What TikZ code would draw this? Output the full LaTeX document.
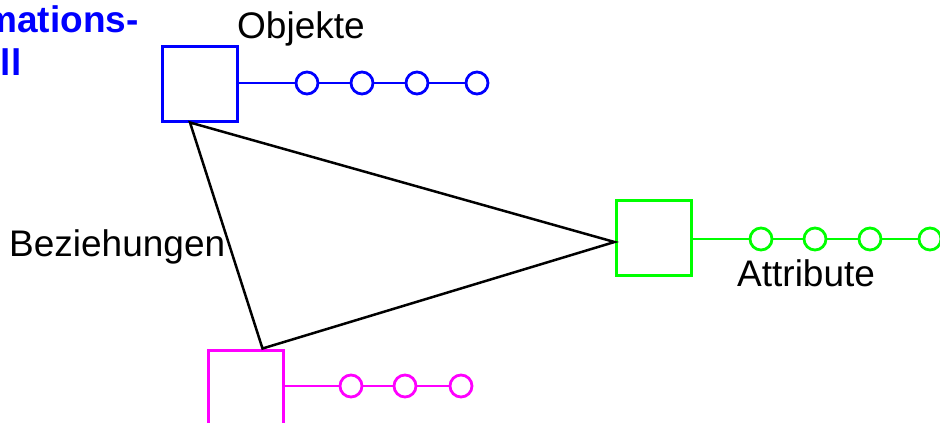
\documentclass[tikz,border=0pt]{standalone}
\usepackage{fontspec}
\setmainfont{Liberation Sans}
\usetikzlibrary{positioning,calc}
\definecolor{objblue}{RGB}{0,0,255}
\definecolor{attrgreen}{RGB}{0,255,0}
\definecolor{relmagenta}{RGB}{255,0,255}

\begin{document}
\begin{tikzpicture}[
x=1pt,y=-1pt,
box/.style={draw,line width=3pt,rectangle,minimum size=75pt,inner sep=0pt},
dot/.style={draw,line width=2.8pt,circle,minimum size=22pt,inner sep=0pt},
chain/.style={line width=2.8pt},
rel/.style={draw=black,line width=2.5pt,line join=miter},
lbl/.style={inner sep=0pt,font=\fontsize{37}{43}\selectfont},
]
	\useasboundingbox[clip] (0,0) rectangle (940,423);
	\node[lbl,objblue,font=\fontsize{37}{43}\selectfont\bfseries,align=left,anchor=base west] (model) at (-98,75) {Informations-\\modell};
	% Objekte
	\begin{scope}[objblue]
		\node[box] (obj) at (200,83.5) {};
		\node[dot] (o1) at (307,83) {};
		\node[dot] (o2) at (362,83) {};
		\node[dot] (o3) at (417,83) {};
		\node[dot] (o4) at (477,83) {};
		\draw[chain] (obj.east |- o1) -- (o1) -- (o2) -- (o3) -- (o4);
	\end{scope}
	\node[lbl,anchor=base west] (objlbl) at (237,38) {Objekte};
	% Attribute
	\begin{scope}[attrgreen]
		\node[box] (attr) at (653.5,238) {};
		\node[dot] (a1) at (761,239) {};
		\node[dot] (a2) at (815,239) {};
		\node[dot] (a3) at (870,239) {};
		\node[dot] (a4) at (930,239) {};
		\draw[chain] (attr.east |- a1) -- (a1) -- (a2) -- (a3) -- (a4);
	\end{scope}
	\node[lbl,anchor=base west] (attrlbl) at (737,286) {Attribute};
	% Beziehungen
	\begin{scope}[relmagenta]
		\node[box] (rel) at (245.5,387.5) {};
		\node[dot] (r1) at (351,386) {};
		\node[dot] (r2) at (405,386) {};
		\node[dot] (r3) at (461,386) {};
		\draw[chain] (rel.east |- r1) -- (r1) -- (r2) -- (r3);
	\end{scope}
	\coordinate (t1) at ([xshift=29]obj.south west);
	\coordinate (t2) at ([yshift=-4]attr.west);
	\coordinate (t3) at ([xshift=17]rel.north);
	\draw[rel] (t1) -- (t2) -- (t3) -- cycle;
	\node[lbl,anchor=base west] (rellbl) at (9,256) {Beziehungen};
\end{tikzpicture}
\end{document}
